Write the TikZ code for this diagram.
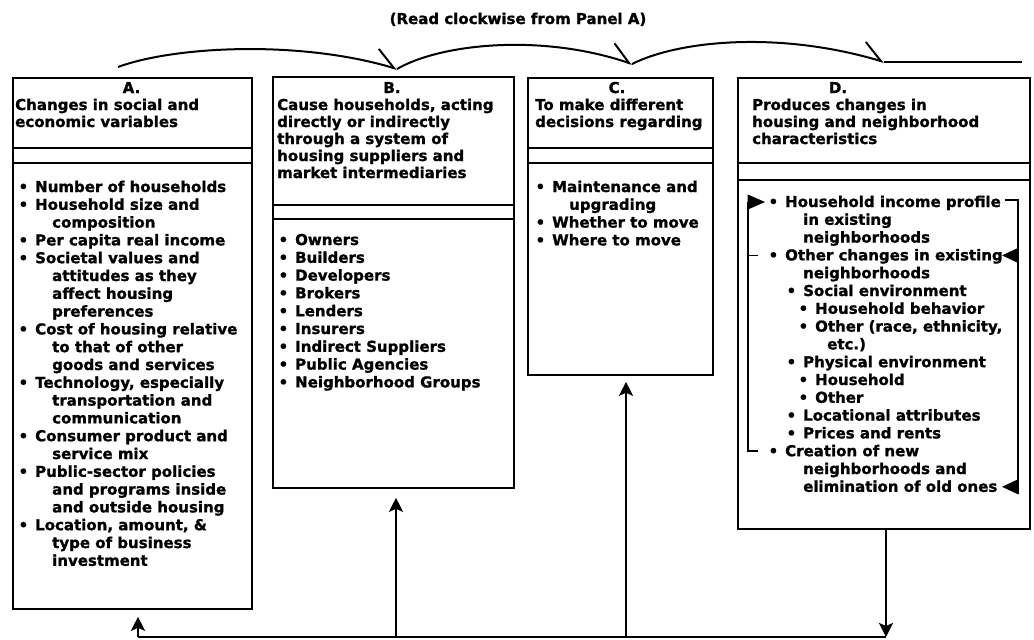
\documentclass[tikz,border=0pt]{standalone}
\usepackage{fontspec}
\setmainfont{DejaVu Sans}[BoldFont={DejaVu Sans Bold},BoldFeatures={FakeBold=1.2}]
\usetikzlibrary{arrows.meta}
\newcommand\bul{\llap{\textbullet\hspace{7pt}}}
\newcommand\ind{\hspace*{17pt}}
\begin{document}
\begin{tikzpicture}[x=1pt,y=-1pt,
  txt/.style={anchor=base west, inner sep=0pt, font=\fontsize{15}{17}\selectfont\bfseries},
  lbl/.style={anchor=base, inner sep=0pt, font=\fontsize{15}{17}\selectfont\bfseries},
  panel/.style={draw, line width=1.8pt, anchor=north west, inner sep=0pt},
  divider/.style={line width=1.6pt},
  flow/.style={line width=2.6pt, -{Stealth[length=14pt,width=14pt,inset=3pt]}},
  plain/.style={line width=2pt},
  arc/.style={line width=2pt, -{Straight Barb[harpoon,length=20pt,width=28pt]}},
  tri/.style={fill=black, draw=black, line width=0.8pt},
  brack/.style={line width=1.6pt}]
\useasboundingbox (0,0) rectangle (1034,640);

% title
\node[lbl] (title) at (518,24) {(Read clockwise from Panel A)};

% panels
\node[panel, minimum width=239pt, minimum height=531pt] (A) at (12,77) {};
\node[panel, minimum width=241pt, minimum height=411pt] (B) at (272,76) {};
\node[panel, minimum width=185pt, minimum height=297pt] (C) at (527,77) {};
\node[panel, minimum width=292pt, minimum height=451pt] (D) at (737,77) {};

% dividers
\draw[divider] (A.west |- 0,148) -- (A.east |- 0,148);
\draw[divider] (A.west |- 0,163) -- (A.east |- 0,163);
\draw[divider] (B.west |- 0,205) -- (B.east |- 0,205);
\draw[divider] (B.west |- 0,219) -- (B.east |- 0,219);
\draw[divider] (C.west |- 0,148) -- (C.east |- 0,148);
\draw[divider] (C.west |- 0,163) -- (C.east |- 0,163);
\draw[divider] (D.west |- 0,163) -- (D.east |- 0,163);
\draw[divider] (D.west |- 0,180) -- (D.east |- 0,180);

% headers
\node[lbl] (Alab) at (131.5,93) {A.};
\node[lbl] (Blab) at (392,93) {B.};
\node[lbl] (Clab) at (617,93) {C.};
\node[lbl] (Dlab) at (838,93) {D.};
\foreach \t [count=\i from 1] in {Changes in social and, economic variables}
  \node[txt, name=Ah\i] at (15,{93+17*\i}) {\t};
\foreach \t [count=\i from 1] in {{Cause households, acting}, directly or indirectly, through a system of, housing suppliers and, market intermediaries}
  \node[txt, name=Bh\i] at (277,{93+17*\i}) {\t};
\foreach \t [count=\i from 1] in {To make different, decisions regarding}
  \node[txt, name=Ch\i] at (535,{93+17*\i}) {\t};
\foreach \t [count=\i from 1] in {Produces changes in, housing and neighborhood, characteristics}
  \node[txt, name=Dh\i] at (752,{93+17*\i}) {\t};

% lists
\foreach \t [count=\i from 0] in {
  \bul Number of households, \bul Household size and, \ind composition,
  \bul Per capita real income, \bul Societal values and, \ind attitudes as they,
  \ind affect housing, \ind preferences, \bul Cost of housing relative,
  \ind to that of other, \ind goods and services, {\bul Technology, especially},
  \ind transportation and, \ind communication, \bul Consumer product and,
  \ind service mix, \bul Public-sector policies, \ind and programs inside,
  \ind and outside housing, {\bul Location, amount, \&}, \ind type of business,
  \ind investment}
  \node[txt, name=Al\i] at (35,{192+17.8*\i}) {\t};
\foreach \t [count=\i from 0] in {Owners, Builders, Developers, Brokers, Lenders,
  Insurers, Indirect Suppliers, Public Agencies, Neighborhood Groups}
  \node[txt, name=Bl\i] at (295,{245+17.8*\i}) {\bul\t};
\foreach \t [count=\i from 0] in {\bul Maintenance and, \ind upgrading,
  \bul Whether to move, \bul Where to move}
  \node[txt, name=Cl\i] at (552,{192+17.8*\i}) {\t};
\foreach \x/\t [count=\i from 0] in {
  785/\bul Household income profile, 803/in existing, 803/neighborhoods,
  785/\bul Other changes in existing, 803/neighborhoods,
  803/\bul Social environment, 815/\bul Household behavior,
  815/{\bul Other (race, ethnicity,}, 827/etc.),
  803/\bul Physical environment, 815/\bul Household, 815/\bul Other,
  803/\bul Locational attributes, 803/\bul Prices and rents,
  785/\bul Creation of new, 803/neighborhoods and, 803/elimination of old ones}
  \node[txt, name=Dl\i] at (\x,{207+17.8*\i}) {\t};

% brackets in panel D
\coordinate (lt) at (748,202);
\coordinate (lm) at (748,255.4);
\coordinate (lb) at (748,451.2);
\draw[brack] (lt) -- (lb) -- ++(10,0);
\draw[brack] (lm) -- ++(10,0);
\fill[tri] (lt) ++(0,-7) -- ++(16,7) -- ++(-16,7) -- cycle;
\coordinate (rt) at (1018,200);
\coordinate (rm) at (1018,255.4);
\coordinate (rb) at (1018,486.8);
\draw[brack] (1005,200) -- (rt) -- ([yshift=-7pt]rb);
\fill[tri] (rm) ++(0,-7) -- ++(-15,7) -- ++(15,7) -- cycle;
\fill[tri] (rb) ++(0,-7) -- ++(-15,7) -- ++(15,7) -- cycle;

% top arcs (read clockwise)
\coordinate (a1) at (118,67);
\coordinate (b1) at (397,69);
\coordinate (c1) at (632,64);
\coordinate (d1) at (884,62);
\coordinate (e1) at (1022,62);
\draw[arc] (a1) .. controls (175,46) and (300,40) .. (b1);
\draw[arc] (b1) .. controls (440,44) and (540,33) .. (c1);
\draw[arc] (c1) .. controls (680,40) and (780,31) .. (d1);
\draw[plain] (d1) -- (e1);

% bottom feedback
\coordinate (fa) at (138,637);
\coordinate (fb) at (396,637);
\coordinate (fc) at (626,637);
\coordinate (fd) at (886,637);
\draw[plain] (fa) -- (fd);
\draw[flow, shorten >=7pt] (fa) -- (fa |- A.south);
\draw[flow, shorten >=9pt] (fb) -- (fb |- B.south);
\draw[flow, shorten >=6pt] (fc) -- (fc |- C.south);
\draw[flow] (fd |- D.south) -- (fd);
\end{tikzpicture}
\end{document}
